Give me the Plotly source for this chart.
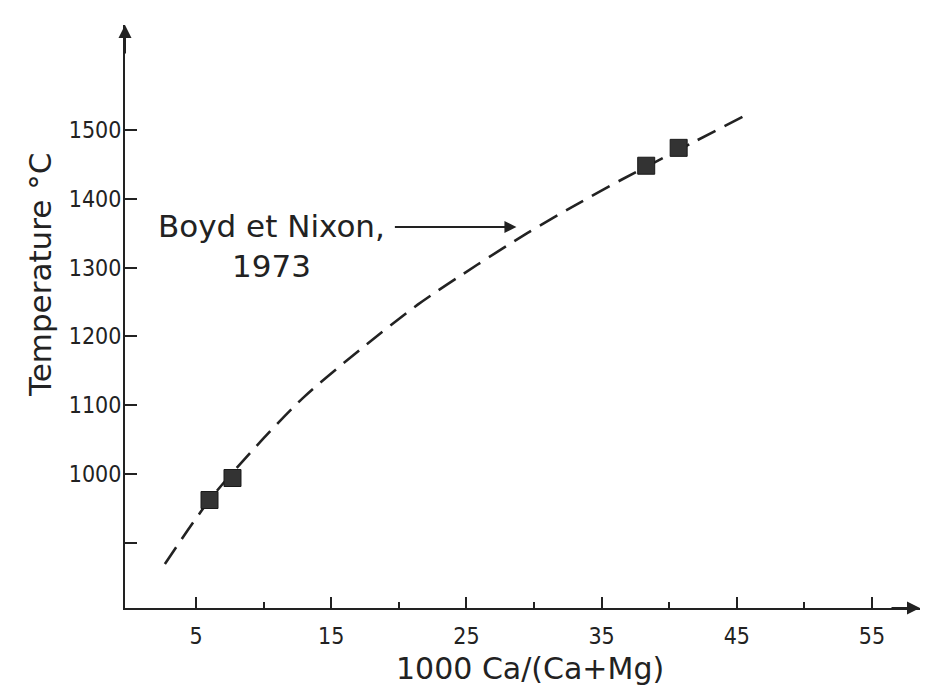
import plotly.graph_objects as go

## DATA
curve_x = [2.7, 6.0, 9.4, 13.0, 17.1, 21.4, 25.8, 29.5, 33.0, 36.5, 40.7, 45.5]
curve_y = [869, 962, 1039, 1112, 1180, 1246, 1304, 1350, 1390, 1428, 1471, 1520]

pts_x = [6.0, 7.7, 38.3, 40.7]
pts_y = [962, 994, 1448, 1474]

y_ticks = [900, 1000, 1100, 1200, 1300, 1400, 1500]
y_labels = ['', '1000', '1100', '1200', '1300', '1400', '1500']
x_ticks = [5, 15, 25, 35, 45, 55]
x_labels = ['5', '15', '25', '35', '45', '55']
x_minor = [10, 20, 30, 40, 50]

INK = '#222222'
TXT_FONT = 'DejaVu Sans, sans-serif'
TICK_FONT = 'Arial Narrow, Liberation Sans Narrow, DejaVu Sans Condensed, sans-serif'

fig = go.Figure()

# dashed calibration curve
fig.add_trace(go.Scatter(x=curve_x, y=curve_y, mode='lines',
                         line=dict(color=INK, width=2.6, dash='20px,10px', shape='spline', smoothing=0.8),
                         hoverinfo='skip', showlegend=False))

# experimental points
fig.add_trace(go.Scatter(x=pts_x, y=pts_y, mode='markers',
                         marker=dict(symbol='square', size=17, color='#333333',
                                     line=dict(color='#1a1a1a', width=1)),
                         showlegend=False))

# page body adds ~8px offset, margins compensate
fig.update_layout(
    width=928, height=687,
    margin=dict(l=117, r=16, t=17, b=87),
    paper_bgcolor='white', plot_bgcolor='white',
    showlegend=False,
)

fig.update_xaxes(range=[-0.25, 58.55], showgrid=False, zeroline=False,
                 showline=True, linecolor=INK, linewidth=2,
                 tickmode='array', tickvals=x_ticks, ticktext=x_labels,
                 ticks='inside', ticklen=11, tickwidth=2, tickcolor=INK,
                 ticklabelstandoff=6,
                 minor=dict(tickvals=x_minor, ticks='inside', ticklen=6, tickwidth=2, tickcolor=INK),
                 tickfont=dict(family=TICK_FONT, size=23, color=INK))

fig.update_yaxes(range=[805, 1652.6], showgrid=False, zeroline=False,
                 showline=True, linecolor=INK, linewidth=2,
                 tickmode='array', tickvals=y_ticks, ticktext=y_labels,
                 ticks='inside', ticklen=12, tickwidth=2, tickcolor=INK,
                 ticklabelstandoff=-3,
                 tickfont=dict(family=TICK_FONT, size=23, color=INK))

# axis titles placed as annotations
fig.add_annotation(xref='paper', yref='paper', x=0.509, y=-0.104, showarrow=False,
                   text='1000 Ca/(Ca+Mg)', xanchor='center', yanchor='middle',
                   font=dict(family=TXT_FONT, size=30, color=INK))
fig.add_annotation(xref='paper', yref='paper', x=-0.107, y=0.571, showarrow=False,
                   text='Temperature °C', textangle=-90, xanchor='center', yanchor='middle',
                   font=dict(family=TXT_FONT, size=31, color=INK))

# axis arrow heads
fig.add_annotation(xref='paper', yref='paper', x=0, y=1, ax=0, ay=30, text='',
                   showarrow=True, arrowhead=2, arrowsize=1.3, arrowwidth=2, arrowcolor=INK)
fig.add_annotation(xref='paper', yref='paper', x=1, y=0, ax=-30, ay=0, text='',
                   showarrow=True, arrowhead=2, arrowsize=1.3, arrowwidth=2, arrowcolor=INK)

# label with pointer
fig.add_annotation(x=10.6, y=1332, xref='x', yref='y', showarrow=False,
                   text='Boyd et Nixon,<br>1973', align='center',
                   font=dict(family=TXT_FONT, size=31, color=INK))
fig.add_annotation(x=28.7, y=1359, ax=19.6, ay=1359, xref='x', yref='y', axref='x', ayref='y',
                   text='', showarrow=True, arrowhead=2, arrowsize=1.2, arrowwidth=2, arrowcolor=INK)

fig.write_html("out.html")
